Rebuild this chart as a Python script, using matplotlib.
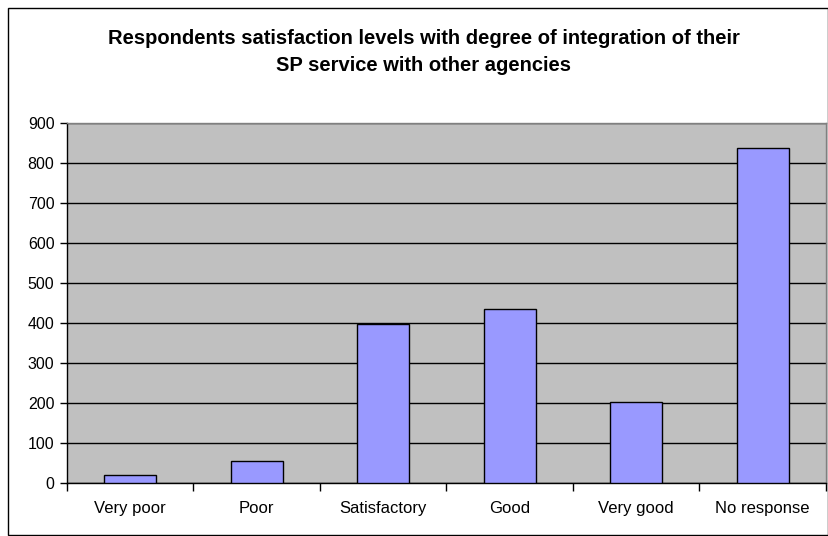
import matplotlib
matplotlib.use("Agg")
import matplotlib.pyplot as plt
from matplotlib.patches import Rectangle
import numpy as np

categories = ["Very poor", "Poor", "Satisfactory", "Good", "Very good", "No response"]
values = [20, 55, 397, 434, 203, 838]
yticks = [0, 100, 200, 300, 400, 500, 600, 700, 800, 900]
title = "Respondents satisfaction levels with degree of integration of their\nSP service with other agencies"

W, H = 829, 536
fig = plt.figure(figsize=(W / 100, H / 100), dpi=100)
fig.patch.set_facecolor("white")

# chart area border
fig.patches.append(Rectangle((8 / W, 1 / H), (W - 9) / W, (H - 9) / H,
                             transform=fig.transFigure, fill=False,
                             edgecolor="black", linewidth=1.0))

ax = fig.add_axes([67 / W, (H - 483) / H, 759 / W, 360 / H])
ax.set_facecolor("#C0C0C0")

x = np.arange(len(categories))
ax.bar(x, values, width=0.41, color="#9999FF", edgecolor="black", linewidth=1.0, zorder=3)

ax.set_xlim(-0.5, len(categories) - 0.5)
ax.set_ylim(0, 900)
ax.set_yticks(yticks)
ax.set_yticklabels([str(v) for v in yticks], fontsize=11.5, family="Liberation Sans")
ax.yaxis.grid(True, color="black", linewidth=1.0, zorder=1)
ax.set_axisbelow(True)

ax.set_xticks(x)
ax.set_xticklabels(categories, fontsize=12, family="Liberation Sans")
ax.tick_params(axis="x", which="major", length=0, pad=13)
ax.set_xticks(np.arange(len(categories) + 1) - 0.5, minor=True)
ax.tick_params(axis="x", which="minor", length=6, width=1, color="black", direction="out")
ax.tick_params(axis="y", length=5, width=1, color="black", pad=4)

ax.spines["left"].set_color("black")
ax.spines["bottom"].set_color("black")
ax.spines["top"].set_color("#808080")
ax.spines["right"].set_color("#808080")
for s in ax.spines.values():
    s.set_linewidth(1.0)

fig.text(424 / W, 1 - 52 / H, title, ha="center", va="center", fontsize=14.5,
         fontweight="bold", family="Liberation Sans", linespacing=1.5)

fig.savefig("out.png", dpi=100)
